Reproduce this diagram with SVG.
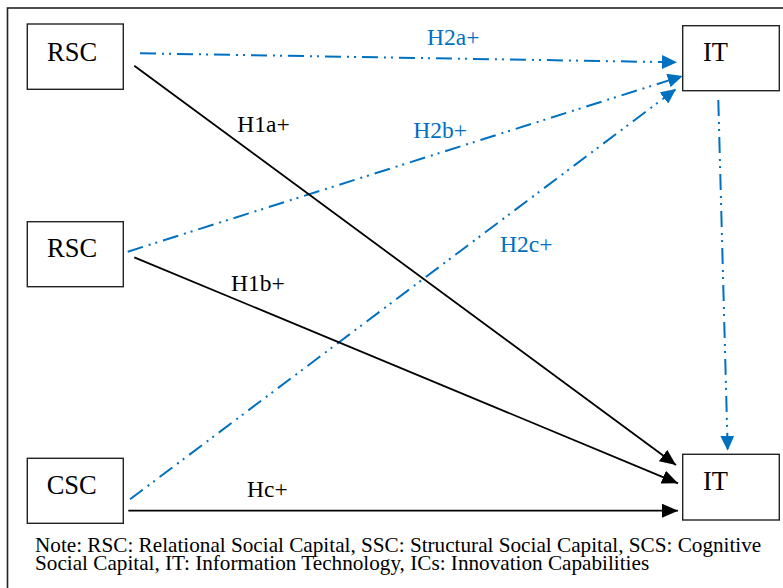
<svg xmlns="http://www.w3.org/2000/svg" width="783" height="588" viewBox="0 0 783 588">
<style>
.box{fill:#fff;stroke:#222;stroke-width:1.4}
.nt{font-family:"Liberation Serif","Times New Roman",serif;font-size:26.5px;fill:#000}
.lb{font-family:"Liberation Serif","Times New Roman",serif;font-size:23.5px}
.blk{fill:#000}
.blu{fill:#0070C0}
.note{font-family:"Liberation Serif","Times New Roman",serif;font-size:21.2px;fill:#000}
.sl{fill:none;stroke:#000;stroke-width:1.8}
.dl{fill:none;stroke:#0070C0;stroke-width:2;stroke-dasharray:16 6 2 5 2 6}
</style>
<defs>
<marker id="ab" markerUnits="userSpaceOnUse" markerWidth="16" markerHeight="14" refX="16" refY="7" orient="auto"><path d="M0,0 L16,7 L0,14 z" fill="#000"/></marker>
<marker id="au" markerUnits="userSpaceOnUse" markerWidth="15" markerHeight="14" refX="15" refY="7" orient="auto"><path d="M0,0 L15,7 L0,14 z" fill="#0070C0"/></marker>
</defs>
<rect x="0" y="0" width="783" height="588" fill="#fff"/>
<rect x="7.5" y="8" width="820" height="620" fill="none" stroke="#222" stroke-width="1.6"/>
<g id="connectors">
<path class="dl" d="M140,53.3 L677,62.3" marker-end="url(#au)"/>
<path class="dl" d="M127.7,251.7 L682.7,76" marker-end="url(#au)"/>
<path class="dl" d="M130,499.3 L676,89" marker-end="url(#au)"/>
<path class="dl" d="M718.3,100 L727.7,450.7" marker-end="url(#au)"/>
<path class="sl" d="M134.3,65.7 L676,465" marker-end="url(#ab)"/>
<path class="sl" d="M134.3,257.3 L678,483.3" marker-end="url(#ab)"/>
<path class="sl" d="M128.3,510.7 L678,510.7" marker-end="url(#ab)"/>
<text class="lb blu" x="427" y="45">H2a+</text>
<text class="lb blk" x="237.3" y="131.7">H1a+</text>
<text class="lb blu" x="413.3" y="138.3">H2b+</text>
<text class="lb blu" x="500" y="252.3">H2c+</text>
<text class="lb blk" x="231" y="290.7">H1b+</text>
<text class="lb blk" x="247" y="496.7">Hc+</text>
</g>
<g id="rsc1"><rect class="box" x="27.3" y="24" width="96" height="65.3"/><text class="nt" x="47" y="60.7">RSC</text></g>
<g id="rsc2"><rect class="box" x="27.3" y="221.7" width="96" height="65"/><text class="nt" x="47" y="257.3">RSC</text></g>
<g id="csc"><rect class="box" x="27.3" y="458.3" width="96" height="65"/><text class="nt" x="46.7" y="494">CSC</text></g>
<g id="it1"><rect class="box" x="682.7" y="25.7" width="96.6" height="65"/><text class="nt" x="703" y="61">IT</text></g>
<g id="it2"><rect class="box" x="682.7" y="454.3" width="96.6" height="65.7"/><text class="nt" x="703" y="490">IT</text></g>
<g id="note">
<text class="note" x="35" y="552.3">Note: RSC: Relational Social Capital, SSC: Structural Social Capital, SCS: Cognitive</text>
<text class="note" x="35" y="570.3">Social Capital, IT: Information Technology, ICs: Innovation Capabilities</text>
</g>
</svg>
